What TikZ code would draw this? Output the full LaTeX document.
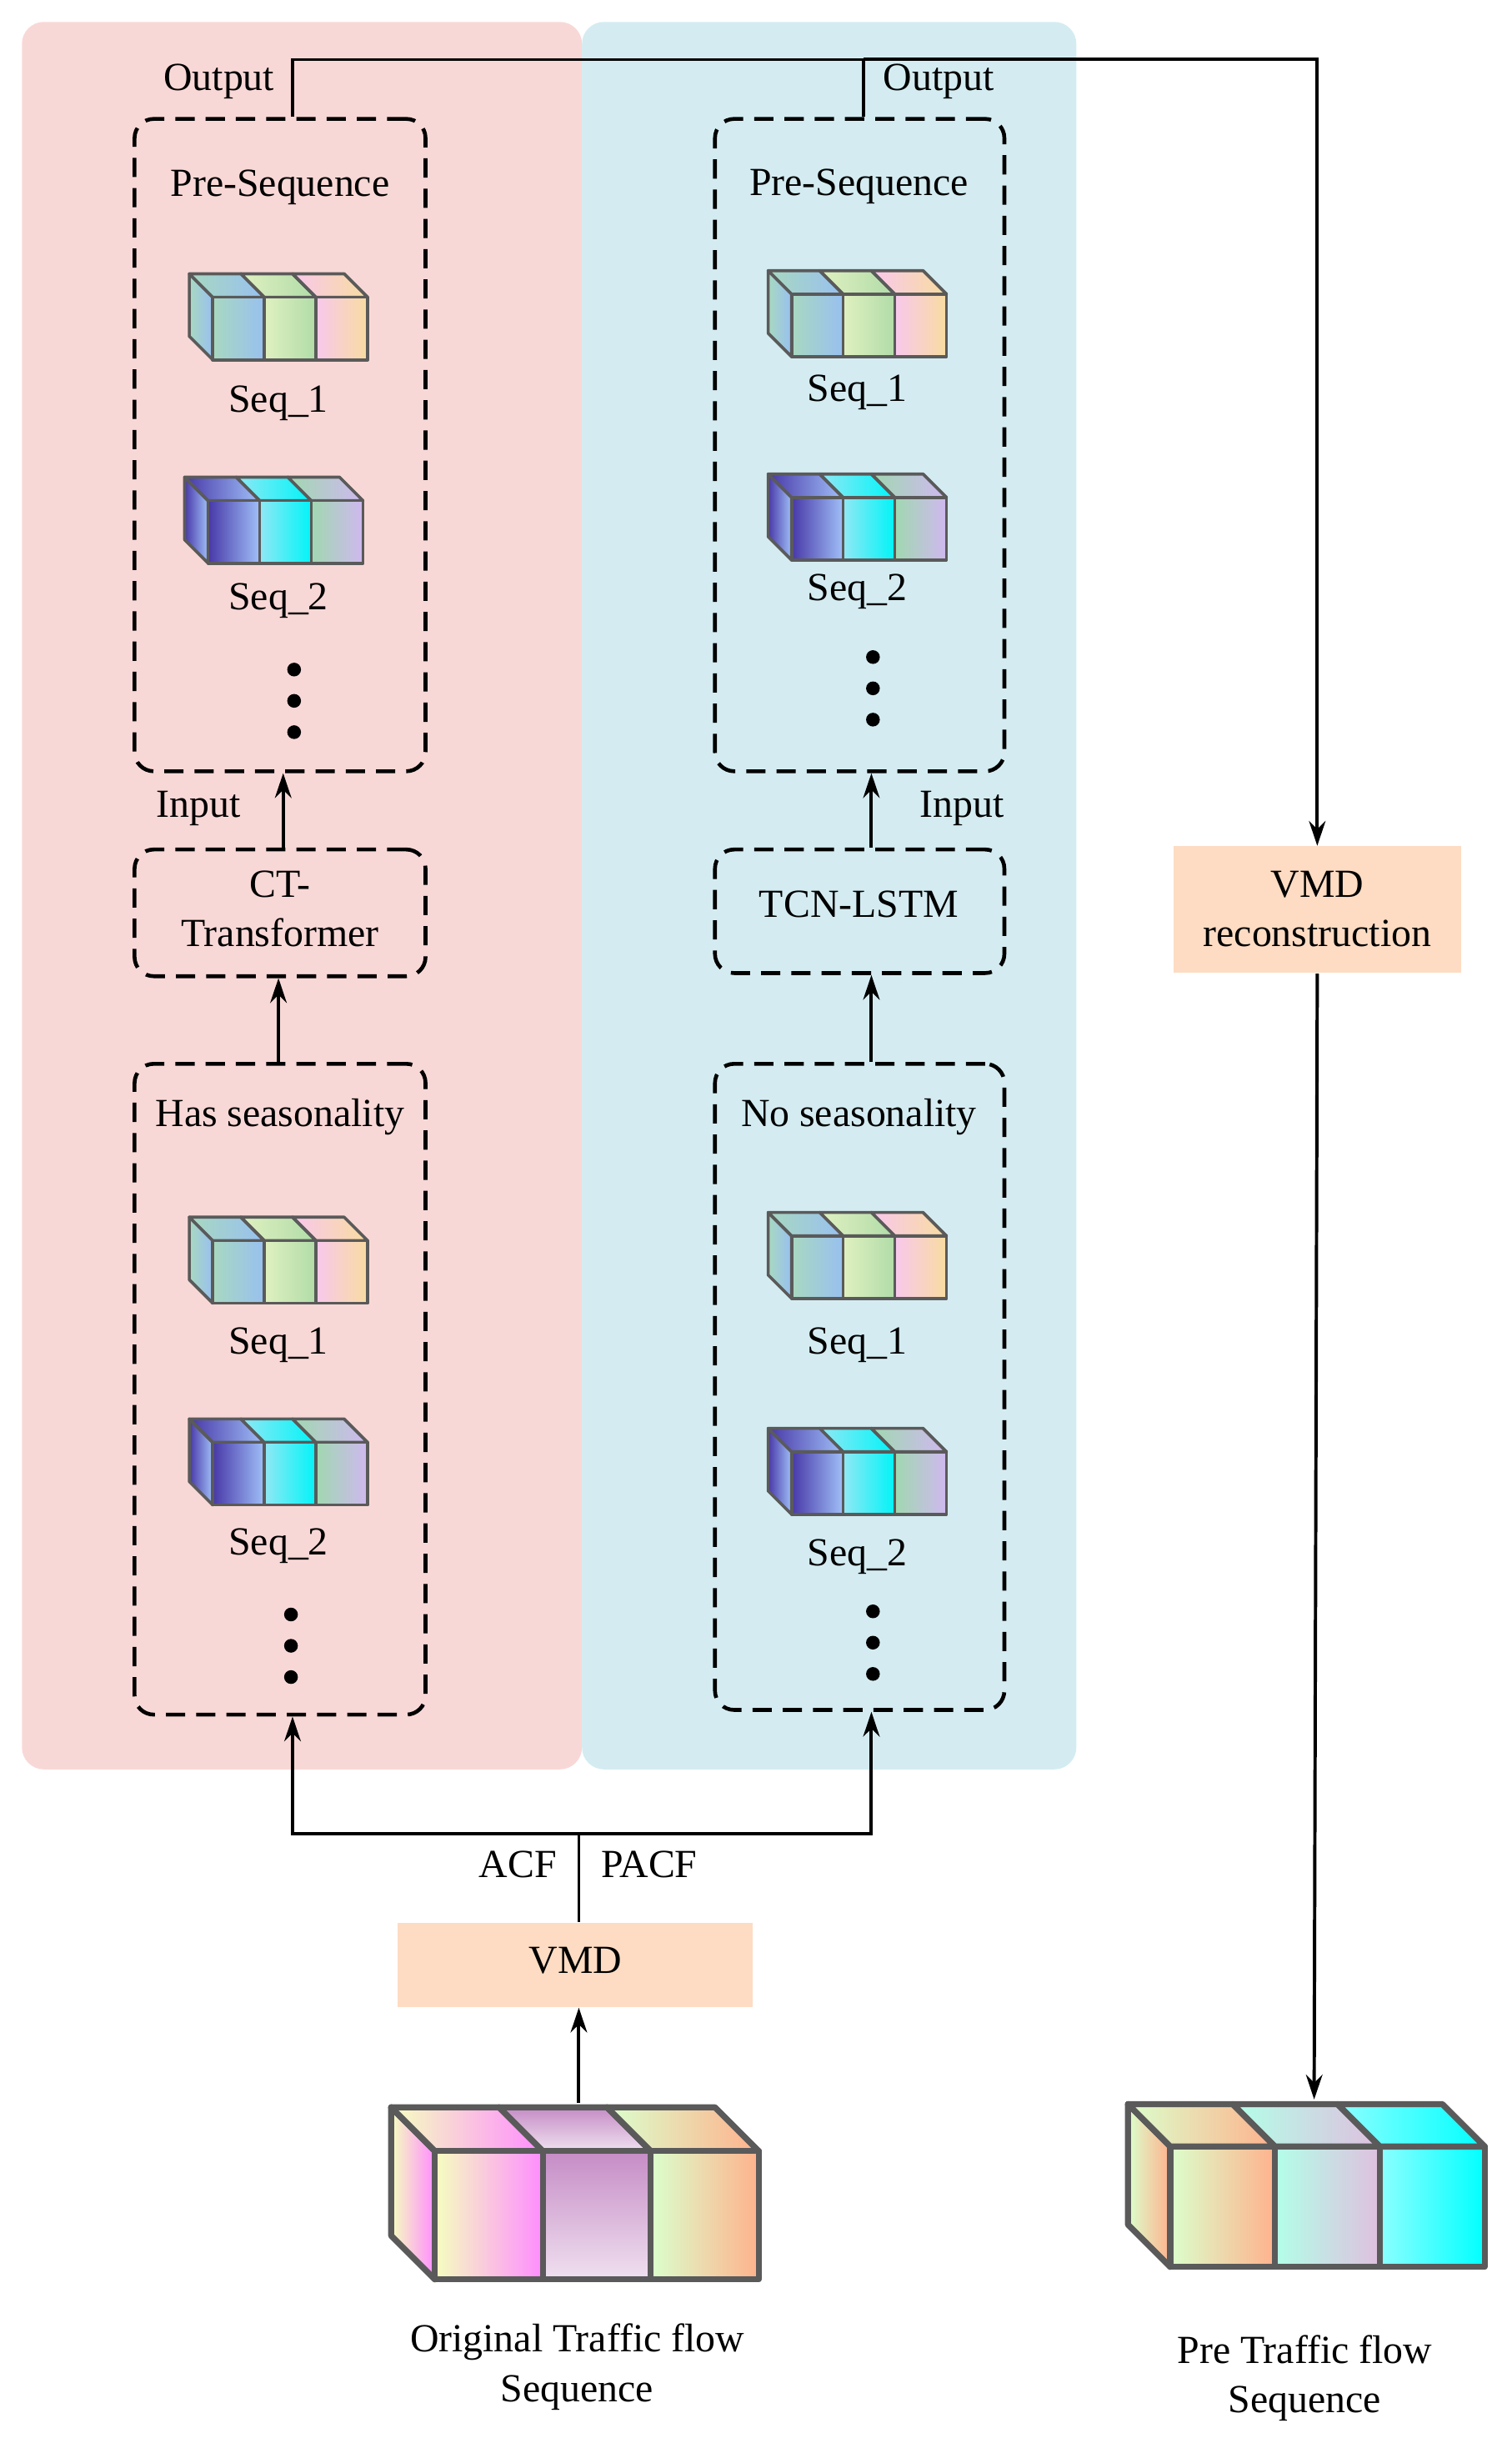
\documentclass[tikz,border=0pt]{standalone}
\usepackage{fontspec}
\setmainfont{Liberation Serif}
\usetikzlibrary{arrows.meta,fit,backgrounds}
\definecolor{pinkbg}{HTML}{F8D8D6}
\definecolor{bluebg}{HTML}{D4ECF1}
\definecolor{vmdc}{HTML}{FDDCC3}
\definecolor{edgeg}{HTML}{5A5A5A}
\definecolor{cA}{HTML}{A8D8C0}\definecolor{cB}{HTML}{98C0F0}
\definecolor{cC}{HTML}{E0F0C0}\definecolor{cD}{HTML}{B0DCA8}
\definecolor{cE}{HTML}{F8C8EC}\definecolor{cF}{HTML}{F8DCA0}
\definecolor{cG}{HTML}{4838A8}\definecolor{cH}{HTML}{A0C0F8}
\definecolor{cI}{HTML}{90E8F4}\definecolor{cJ}{HTML}{00F4F8}
\definecolor{cK}{HTML}{A0D8B0}\definecolor{cL}{HTML}{D0B8F0}
\newcommand\mycube[9]{%
 \begin{scope}[shift={(#1,#2)},line width=#9,draw=edgeg,line join=round]
 \draw[#6] (0,0) -- (0,-#4) -- (-#5,-#4-#5) -- (-#5,-#5) -- cycle;
 \draw[#6] (0,-#4) -- (#3,-#4) -- (#3-#5,-#4-#5) -- (-#5,-#4-#5) -- cycle;
 \draw[#7] (#3,-#4) -- (2*#3,-#4) -- (2*#3-#5,-#4-#5) -- (#3-#5,-#4-#5) -- cycle;
 \draw[#8] (2*#3,-#4) -- (3*#3,-#4) -- (3*#3-#5,-#4-#5) -- (2*#3-#5,-#4-#5) -- cycle;
 \draw[#6] (0,0) rectangle (#3,-#4);
 \draw[#7] (#3,0) rectangle (2*#3,-#4);
 \draw[#8] (2*#3,0) rectangle (3*#3,-#4);
 \end{scope}}
\newcommand\seqA[2]{\mycube{#1}{#2}{33}{40}{15}{left color=cA,right color=cB}{left color=cC,right color=cD}{left color=cE,right color=cF}{1.1pt}}
\newcommand\seqB[2]{\mycube{#1}{#2}{33}{40}{15}{left color=cG,right color=cH}{left color=cI,right color=cJ}{left color=cK,right color=cL}{1.1pt}}
\begin{document}
\begin{tikzpicture}[x=0.02cm,y=-0.02cm,font=\fontsize{14.5}{17}\selectfont,
 dbox/.style={draw,line width=1.4pt,dash pattern=on 7pt off 4pt,rounded corners=7pt,inner sep=0pt},
 arr/.style={line width=1.2pt,-{Stealth[length=9pt,width=6pt]}},
 ln/.style={line width=1.1pt},
 dot/.style={circle,fill=black,inner sep=0pt,minimum size=5pt},
 fbox/.style={fill=vmdc,inner sep=0pt}]
\useasboundingbox (0,0) rectangle (966,1568);
\fill[pinkbg,rounded corners=8pt] (14,14) rectangle (372,1131);
\fill[bluebg,rounded corners=8pt] (372,14) rectangle (688,1131);
% boxes
\node[dbox,fit={(86,76)(272,493)}] (ps1) {};
\node[dbox,fit={(457,76)(642,493)}] (ps2) {};
\node[dbox,fit={(86,543)(272,624)}] (ct) {};
\node[dbox,fit={(457,543)(642,622)}] (tcn) {};
\node[dbox,fit={(86,680)(272,1096)}] (hs) {};
\node[dbox,fit={(457,680)(642,1093)}] (ns) {};
\node[fbox,fit={(750,541)(934,622)}] (vr) {};
\node[fbox,fit={(254,1229)(481,1283)}] (vmd) {};
\node at (179,120) {Pre-Sequence};
\node at (549,119) {Pre-Sequence};
\node[align=center,font=\fontsize{14.5}{18}\selectfont] at (179,581) {CT-\\Transformer};
\node at (549,578) {TCN-LSTM};
\node at (179,714) {Has seasonality};
\node at (549,714) {No seasonality};
\node[align=center,font=\fontsize{14.5}{18}\selectfont] at (842,581) {VMD\\reconstruction};
\node at (368,1253) {VMD};
\node at (140,52) {Output};
\node at (600,52) {Output};
\node at (127,517) {Input};
\node at (615,517) {Input};
\node at (331,1192) {ACF};
\node at (415,1192) {PACF};
\node[align=center,font=\fontsize{14.5}{18}\selectfont] at (369,1513) {Original Traffic flow\\Sequence};
\node[align=center,font=\fontsize{14.5}{18}\selectfont] at (834,1520) {Pre Traffic flow\\Sequence};
% cubes
\seqA{136}{230}\node at (178,258) {Seq\_1};
\seqB{133}{360}\node at (178,384) {Seq\_2};
\seqA{136}{833}\node at (178,860) {Seq\_1};
\seqB{136}{962}\node at (178,988) {Seq\_2};
\seqA{506}{228}\node at (548,251) {Seq\_1};
\seqB{506}{358}\node at (548,378) {Seq\_2};
\seqA{506}{830}\node at (548,860) {Seq\_1};
\seqB{506}{968}\node at (548,995) {Seq\_2};
\mycube{278}{1457}{69}{82}{28}{left color=green!15!yellow!25,right color=magenta!45}{top color=violet!45,bottom color=violet!12}{left color=yellow!30!green!20,right color=red!35!orange!45}{2.2pt}
\mycube{748}{1449}{67}{77}{27}{left color=yellow!30!green!20,right color=red!35!orange!45}{left color=green!30!cyan!30,right color=violet!25}{left color=cyan!45,right color=cyan}{2.2pt}
\coordinate (oc) at (370,1344);
\coordinate (pc) at (840,1342);
% dots
\foreach \x/\y in {188/428,188/448,188/468,558/420,558/440,558/460,186/1032,186/1052,186/1072,558/1030,558/1050,558/1070}
 \node[dot] at (\x,\y) {};
% connectors
\draw[arr] (ct.north-|181,0) -- (ps1.south-|181,0);
\draw[arr] (tcn.north-|557,0) -- (ps2.south-|557,0);
\draw[arr] (hs.north-|178,0) -- (ct.south-|178,0);
\draw[arr] (ns.north-|557,0) -- (tcn.south-|557,0);
\draw[ln] (ps1.north-|187,0) |- (552,38);
\draw[ln] (ps2.north-|552,0) -- (552,38);
\draw[arr] (552,38) -| (vr.north);
\draw[arr] (vr.south) -- (pc);
\draw[arr] (oc) -- (vmd.south-|370,0);
\draw[ln] (vmd.north-|370,0) -- (370,1172);
\draw[arr] (370,1172) -| (hs.south-|187,0);
\draw[arr] (370,1172) -| (ns.south-|557,0);
\end{tikzpicture}
\end{document}
